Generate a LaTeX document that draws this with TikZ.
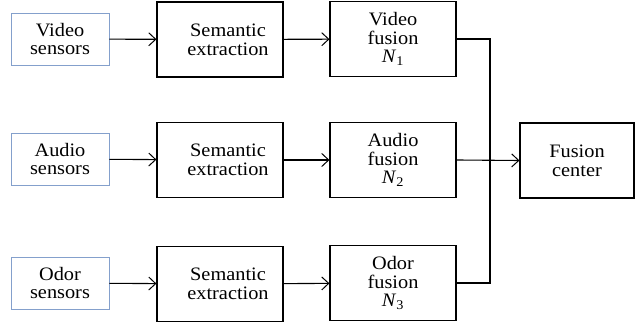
\documentclass[tikz,border=0pt]{standalone}
\usepackage{fontspec}
\setmainfont{Liberation Serif}[FakeStretch=1.07]
\usetikzlibrary{arrows.meta}
\definecolor{sensorblue}{RGB}{132,160,204}
\tikzset{
  txt/.style={align=center, inner sep=0pt, font=\fontsize{19}{18.7}\selectfont},
  blk/.style={txt, draw=black, line width=1.1pt, minimum width=126pt, minimum height=75pt},
  sembox/.style={blk, label={[txt, xshift=8pt]center:Semantic\\extraction}},
  sensor/.style={txt, draw=sensorblue, line width=0.9pt, minimum width=98pt, minimum height=52pt},
  arr/.style={line width=1.1pt, -{Straight Barb[length=7pt,width=13pt,line width=1pt]}},
  wire/.style={line width=1.1pt}
}
\begin{document}
\begin{tikzpicture}[x=1pt,y=-1pt]
  \useasboundingbox (0,0) rectangle (635,328);

  % sensor inputs
  \node[sensor] (vs) at (60,39)  {Video\\sensors};
  \node[sensor] (as) at (60,159) {Audio\\sensors};
  \node[sensor] (os) at (60,283) {Odor\\sensors};

  % semantic extraction stage
  \node[sembox] (se1) at (220,39.5) {};
  \node[sembox] (se2) at (220,160)  {};
  \node[sembox] (se3) at (220,284)  {};

  % per-modality fusion
  \node[blk] (vf) at (393,39)  {Video\\fusion\\\textit{N}\textsubscript{1}};
  \node[blk] (af) at (393,160) {Audio\\fusion\\\textit{N}\textsubscript{2}};
  \node[blk] (of) at (393,283) {Odor\\fusion\\\textit{N}\textsubscript{3}};

  % central fusion
  \node[blk, minimum width=114pt] (fc) at (577,160.5) {Fusion\\center};

  \draw[arr] (vs) -- (se1);
  \draw[arr] (as) -- (se2);
  \draw[arr] (os) -- (se3);
  \draw[arr] (se1) -- (vf);
  \draw[arr] (se2) -- (af);
  \draw[arr] (se3) -- (of);

  % collecting bus
  \coordinate (bt) at (490,39);
  \coordinate (bb) at (490,283);
  \draw[wire] (vf.east) -- (bt) -- (bb) -- (of.east);
  \draw[arr] (af.east) -- (fc.west);
\end{tikzpicture}
\end{document}
